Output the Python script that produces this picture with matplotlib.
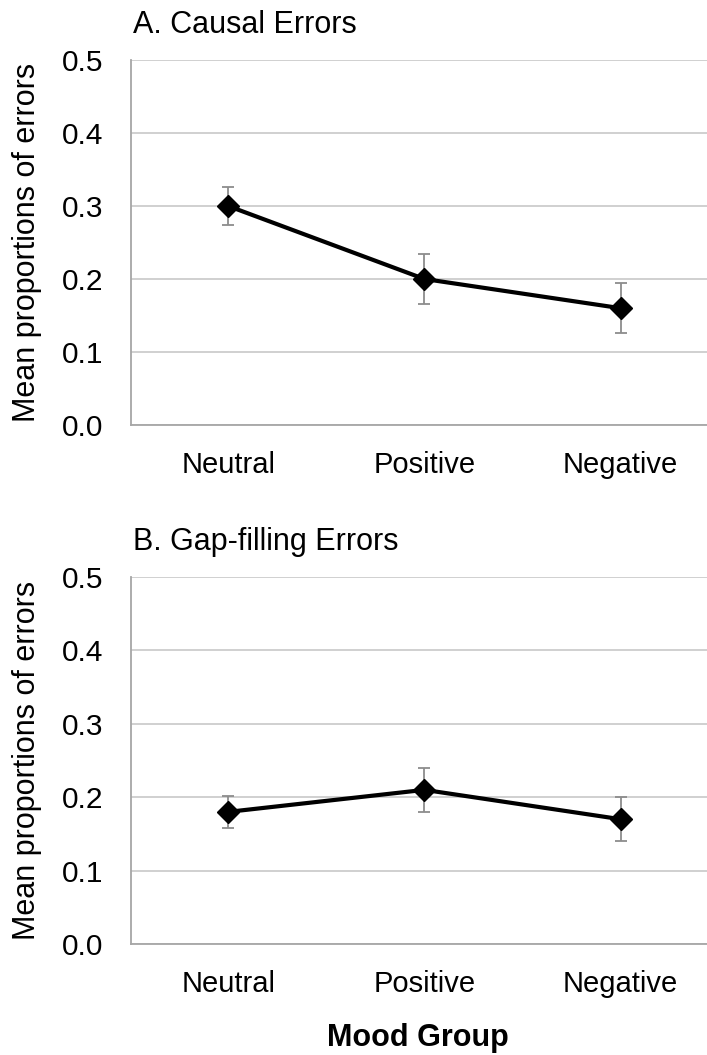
import matplotlib
matplotlib.use('Agg')
import matplotlib.pyplot as plt

plt.rcParams['font.family'] = ['Liberation Sans', 'DejaVu Sans']

groups = ['Neutral', 'Positive', 'Negative']
causal_means = [0.30, 0.20, 0.16]
causal_err = [0.026, 0.034, 0.034]
gap_means = [0.18, 0.21, 0.17]
gap_err = [0.022, 0.030, 0.030]
y_ticks = [0.0, 0.1, 0.2, 0.3, 0.4, 0.5]

W, H = 707, 1055
fig = plt.figure(figsize=(W / 100, H / 100), dpi=100)

def px_axes(left, top, right, bottom):
    return fig.add_axes([left / W, 1 - bottom / H, (right - left) / W, (bottom - top) / H])

panels = [
    ('A. Causal Errors', causal_means, causal_err, (131, 60, 707, 425), 33),
    ('B. Gap-filling Errors', gap_means, gap_err, (131, 577, 707, 944), 550),
]

x = list(range(len(groups)))
for title, means, errs, box, title_y in panels:
    ax = px_axes(*box)
    ax.errorbar(x, means, yerr=errs, fmt='none', ecolor='#8c8c8c', elinewidth=1.3,
                capsize=4, capthick=1.3, zorder=2)
    ax.plot(x, means, color='black', lw=3, marker='D', ms=11, zorder=3)
    ax.set_ylim(0, 0.5)
    ax.set_xlim(-0.495, 2.44)
    ax.set_yticks(y_ticks)
    ax.set_yticklabels([f'{v:.1f}' for v in y_ticks], fontsize=21.5)
    ax.set_xticks(x)
    ax.set_xticklabels(groups, fontsize=21)
    ax.tick_params(axis='both', length=0)
    ax.tick_params(axis='y', pad=20)
    ax.tick_params(axis='x', pad=19)
    ax.grid(axis='y', color='#c8c8c8', lw=1.2)
    ax.set_axisbelow(True)
    for s in ['top', 'right']:
        ax.spines[s].set_visible(False)
    for s in ['left', 'bottom']:
        ax.spines[s].set_color('#a6a6a6')
        ax.spines[s].set_linewidth(1.3)
    ax.set_ylabel('Mean proportions of errors', fontsize=22)
    # label bottom (right side once rotated) sits about 42 px from the figure edge
    ax.yaxis.set_label_coords(-(131 - 42) / (707 - 131), 0.5)
    fig.text(133 / W, 1 - title_y / H, title, fontsize=22, va='baseline', ha='left')

fig.text(418 / W, 1 - 1038 / H, 'Mood Group', fontsize=22, fontweight='bold',
         ha='center', va='center')

fig.savefig('out.png', dpi=100)
